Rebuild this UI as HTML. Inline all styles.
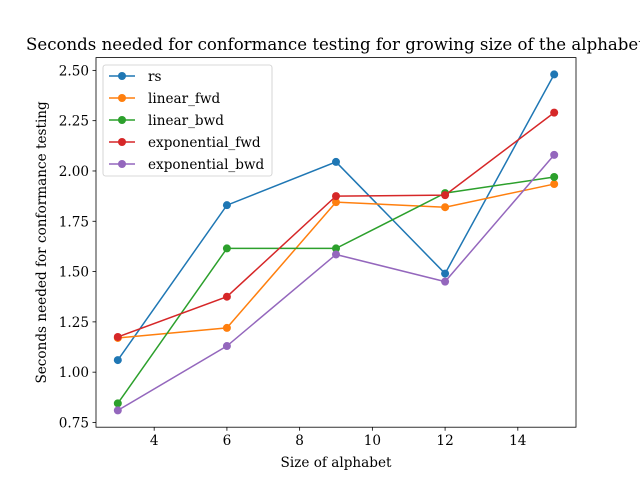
<!DOCTYPE html>
<html><head><meta charset="utf-8"><style>
html,body{margin:0;padding:0;background:#fff;}
svg{display:block;font-family:"DejaVu Serif","Liberation Serif",serif;}
</style></head><body>
<svg id="chart" width="640" height="480" viewBox="0 0 640 480"></svg>
<script>
const categories = [3, 6, 9, 12, 15];
const seriesNames = ["rs", "linear_fwd", "linear_bwd", "exponential_fwd", "exponential_bwd"];
const rsValues = [1.06, 1.83, 2.045, 1.49, 2.48];
const linearFwdValues = [1.17, 1.22, 1.845, 1.82, 1.935];
const linearBwdValues = [0.845, 1.615, 1.615, 1.89, 1.97];
const expFwdValues = [1.175, 1.375, 1.875, 1.88, 2.29];
const expBwdValues = [0.81, 1.13, 1.585, 1.45, 2.08];
const xTicks = [4, 6, 8, 10, 12, 14];
const yTicks = [0.75, 1.00, 1.25, 1.50, 1.75, 2.00, 2.25, 2.50];

const colors = ["#1f77b4", "#ff7f0e", "#2ca02c", "#d62728", "#9467bd"];
const allSeries = [rsValues, linearFwdValues, linearBwdValues, expFwdValues, expBwdValues];
const NS = "http://www.w3.org/2000/svg";
const svg = document.getElementById("chart");
const L = 96, R = 576, T = 57.6, B = 427.2;
const xmin0 = Math.min(...categories), xmax0 = Math.max(...categories), xm = (xmax0 - xmin0) * 0.05;
const xmin = xmin0 - xm, xmax = xmax0 + xm;
const flat = allSeries.flat();
const ymin0 = Math.min(...flat), ymax0 = Math.max(...flat), ym = (ymax0 - ymin0) * 0.05;
const ymin = ymin0 - ym, ymax = ymax0 + ym;
const xs = v => L + (v - xmin) / (xmax - xmin) * (R - L);
const ys = v => B - (v - ymin) / (ymax - ymin) * (B - T);
const FS = 13.6, TFS = 16.6;
function mk(tag, attrs, parent) {
  const e = document.createElementNS(NS, tag);
  for (const k in attrs) e.setAttribute(k, attrs[k]);
  (parent || svg).appendChild(e);
  return e;
}
const title = mk("text", {x: 26, y: 50, "text-anchor": "start", "font-size": TFS});


title.textContent = "Seconds needed for conformance testing for growing size of the alphabet";
xTicks.forEach(t => {
  const x = xs(t);
  const ln = mk("line", {x1: x, x2: x, y1: B, y2: B + 3.5, stroke: "#000", "stroke-width": 0.8});
  
  
  const tx = mk("text", {x: x, y: B + 18, "text-anchor": "middle", "font-size": FS});
  
  
  tx.textContent = t;
});
yTicks.forEach(t => {
  const y = ys(t);
  const ln = mk("line", {x1: L - 3.5, x2: L, y1: y, y2: y, stroke: "#000", "stroke-width": 0.8});
  
  
  const tx = mk("text", {x: L - 7, y: y + 5, "text-anchor": "end", "font-size": FS});
  
  
  tx.textContent = t.toFixed(2);
});
const xl = mk("text", {x: (L + R) / 2, y: 467, "text-anchor": "middle", "font-size": FS});


xl.textContent = "Size of alphabet";
const yl = mk("text", {x: 46, y: (T + B) / 2, "text-anchor": "middle", "font-size": FS, transform: `rotate(-90 46 ${(T + B) / 2})`});


yl.textContent = "Seconds needed for conformance testing";
allSeries.forEach((vals, i) => {
  const g = mk("g", {});
  
  
  const pts = vals.map((v, j) => xs(categories[j]) + "," + ys(v)).join(" ");
  const pl = mk("polyline", {points: pts, fill: "none", stroke: colors[i], "stroke-width": 1.5}, g);
  
  
  vals.forEach((v, j) => {
    const c = mk("circle", {cx: xs(categories[j]), cy: ys(v), r: 4, fill: colors[i]}, g);
    
    
  });
});
const fr = mk("rect", {x: L, y: T, width: R - L, height: B - T, fill: "none", stroke: "#000", "stroke-width": 0.8});


const lg = mk("g", {});


mk("rect", {x: 103, y: 65, width: 169, height: 111, rx: 2.5, fill: "#fff", "fill-opacity": 0.8, stroke: "#ccc", "stroke-width": 0.8}, lg);
seriesNames.forEach((n, i) => {
  const y = 76 + i * 22;
  const e = mk("g", {}, lg);
  
  
  mk("line", {x1: 109, x2: 135, y1: y, y2: y, stroke: colors[i], "stroke-width": 1.5}, e);
  mk("circle", {cx: 122, cy: y, r: 4, fill: colors[i]}, e);
  const t = mk("text", {x: 148, y: y + 5, "font-size": FS}, e);
  t.textContent = n;
});
</script>
</body></html>
